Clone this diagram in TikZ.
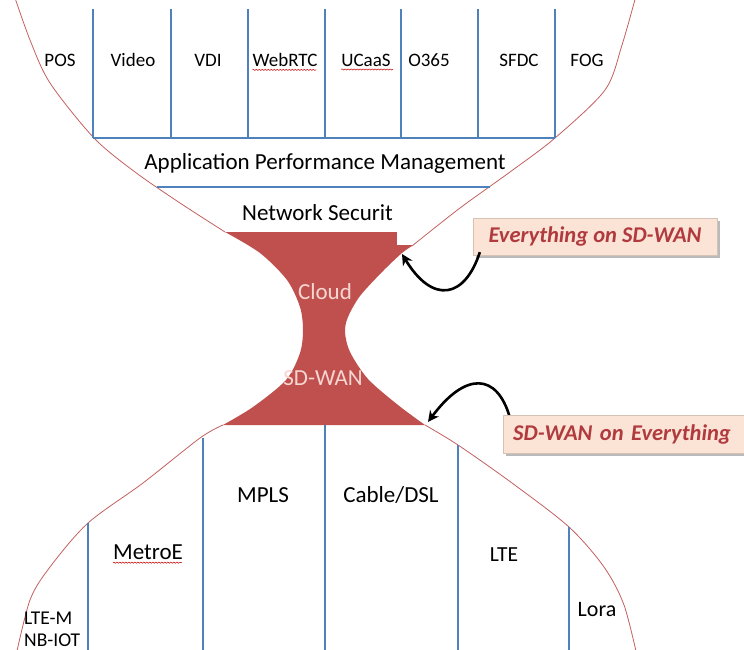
\documentclass[tikz,border=0pt]{standalone}
\usepackage{fontspec}
\setmainfont{Carlito}
\usetikzlibrary{arrows.meta,decorations.pathmorphing,shadows}
\definecolor{hgred}{RGB}{192,80,77}
\definecolor{hgline}{RGB}{196,96,96}
\definecolor{lane}{RGB}{79,129,189}
\definecolor{calloutfill}{RGB}{251,228,214}
\definecolor{callouttext}{RGB}{176,58,62}
\definecolor{cloudtext}{RGB}{246,214,210}
\tikzset{
  hourglass/.style={draw=hgline, line width=0.8pt},
  lanesep/.style={draw=lane, line width=1.6pt},
  smalllbl/.style={font=\fontsize{19}{22}\selectfont, inner sep=0pt},
  biglbl/.style={font=\fontsize{23}{26}\selectfont, inner sep=0pt},
  corelbl/.style={font=\fontsize{23}{26}\selectfont, text=cloudtext, inner sep=0pt},
  callout/.style={fill=calloutfill, draw=calloutfill!85!black, line width=0.3pt,
    font=\fontsize{22.5}{26}\selectfont\bfseries\itshape, text=callouttext,
    drop shadow={shadow xshift=3pt, shadow yshift=-3pt, fill=black!45, opacity=0.6},
    inner sep=0pt},
  pointer/.style={draw=black, line width=2.6pt, -{Stealth[length=11pt,width=11pt]}},
  spell/.style={draw=red!80!black, line width=0.5pt,
    decorate, decoration={snake, amplitude=0.6pt, segment length=3pt}}
}
\begin{document}
\begin{tikzpicture}[x=1pt,y=-1pt]
\useasboundingbox (0,0) rectangle (744,650);
\fill[white] (0,0) rectangle (744,650);

% --- the SD-WAN / Cloud waist ---
\fill[hgred] (225,232) -- (416,232) -- (412,246)
  -- plot[smooth] coordinates {(412,246) (402,253) (383,271) (360,296) (348,317) (345,332) (350,352) (368,379) (398,405) (425,425)}
  -- (223,425)
  -- plot[smooth] coordinates {(223,425) (253,407) (286,380) (300,353) (303,330) (300,307) (287,280) (260,253) (225,232)}
  -- cycle;
% blank patch beside the security label
\fill[white] (397,208) rectangle (452,245);

% --- hourglass outline, top and bottom halves ---
\draw[hourglass] plot[smooth] coordinates {(13,-8) (30,40) (50,83) (94,138) (135,172) (180,203) (225,232)};
\draw[hourglass] plot[smooth] coordinates {(637,-8) (622,45) (605,90) (555,138) (510,172) (460,208) (412,246)};
\draw[hourglass] plot[smooth] coordinates {(425,425) (458,445) (512,483) (569,527) (604,567) (624,605) (638,660)};
\draw[hourglass] plot[smooth] coordinates {(223,425) (200,438) (143,483) (88,523) (50,567) (30,600) (15,660)};

% --- application lanes ---
\foreach \x in {93,171,248,325,401,478,555}
  \draw[lanesep] (\x,9) -- (\x,138);
\draw[lanesep] (93,138) -- (555,138);
\draw[lanesep] (157,187) -- (490,187);

\node[smalllbl] (pos)    at (60,60)  {POS};
\node[smalllbl] (video)  at (133,60) {Video};
\node[smalllbl] (vdi)    at (208,60) {VDI};
\node[smalllbl] (webrtc) at (285,60) {WebRTC};
\node[smalllbl] (ucaas)  at (366,60) {UCaaS};
\node[smalllbl] (o365)   at (429,60) {O365};
\node[smalllbl] (sfdc)   at (519,60) {SFDC};
\node[smalllbl] (fog)    at (587,60) {FOG};
\draw[spell] (webrtc.south west) ++(0,3) -- ++(64,0);
\draw[spell] (ucaas.south west) ++(0,3) -- ++(52,0);

\node[biglbl] (apm) at (325,163) {Application Performance Management};
\node[biglbl, anchor=west] (netsec) at (242,213) {Network Securit};

\node[corelbl] (cloud) at (325,292) {Cloud};
\node[corelbl] (sdwan) at (323,378) {SD-WAN};

% --- transport lanes ---
\draw[lanesep] (88,523)  -- (88,660);
\draw[lanesep] (203,438) -- (203,660);
\draw[lanesep] (325,425) -- (325,660);
\draw[lanesep] (458,445) -- (458,660);
\draw[lanesep] (569,527) -- (569,660);

\node[smalllbl, font=\fontsize{19.5}{22}\selectfont, anchor=west] (ltem) at (24,618) {LTE-M};
\node[smalllbl, font=\fontsize{19.5}{22}\selectfont, anchor=west] (nbiot) at (24,640) {NB-IOT};
\node[biglbl] (metroe) at (148,552) {MetroE};
\draw[spell] (metroe.south west) ++(0,3) -- ++(69,0);
\node[biglbl] (mpls)  at (263,495) {MPLS};
\node[biglbl] (cable) at (391,495) {Cable/DSL};
\node[biglbl, font=\fontsize{21.5}{24}\selectfont] (lte) at (504,555) {LTE};
\node[biglbl, font=\fontsize{22}{24}\selectfont] (lora) at (597,610) {Lora};

% --- callouts and their pointers ---
\coordinate (tipA) at (402,254);
\coordinate (tipB) at (428,422);
\coordinate (tailB) at (510,418);
\draw[pointer] (tailB) .. controls (497,372) and (465,372) .. (tipB);

\node[callout, minimum width=244pt, minimum height=37pt] (evsd) at (595,236.5) {Everything on SD-WAN};
\node[callout, minimum width=260pt, minimum height=38pt, anchor=west, text width=250pt, align=left] (sdev) at (503,434) {\hspace*{5pt}SD-WAN on Everything};

\draw[pointer] ([xshift=7pt,yshift=3pt]evsd.south west) .. controls (465,298) and (433,305) .. (tipA);
\end{tikzpicture}
\end{document}
